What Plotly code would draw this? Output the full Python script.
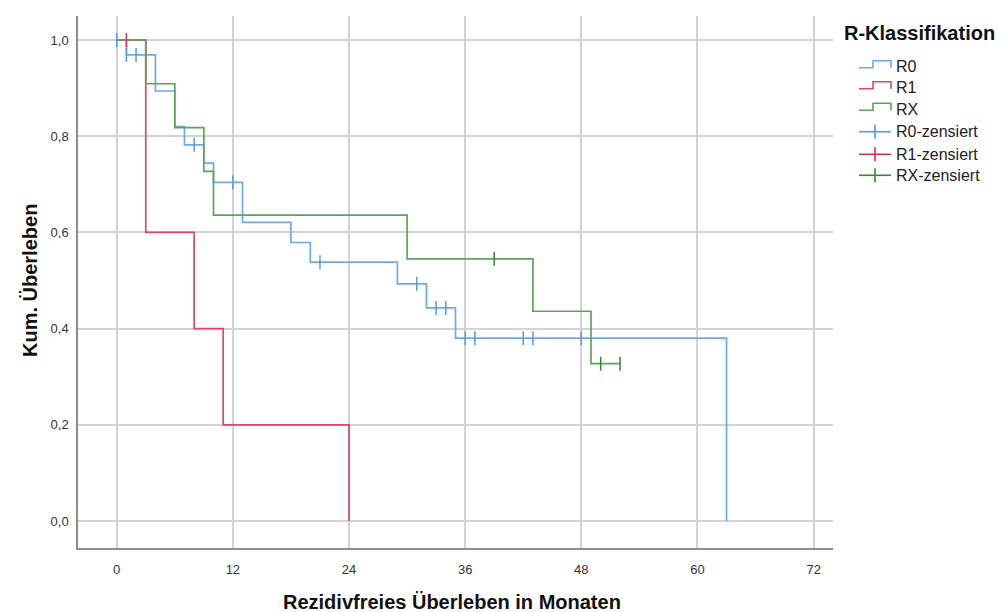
import plotly.graph_objects as go

# ---------------- data ----------------
r0_t = [0, 1, 4, 6, 7, 9, 10, 13, 18, 20, 29, 32, 35, 63]
r0_s = [1.0, 0.969, 0.894, 0.820, 0.782, 0.744, 0.704, 0.621, 0.579, 0.538, 0.493, 0.443, 0.380, 0.0]
r0_cens_t = [0, 1, 2, 8, 12, 21, 31, 33, 34, 36, 37, 42, 43, 48]
r0_cens_s = [1.0, 0.969, 0.969, 0.782, 0.704, 0.538, 0.493, 0.443, 0.443, 0.380, 0.380, 0.380, 0.380, 0.380]

r1_t = [0, 3, 8, 11, 24]
r1_s = [1.0, 0.6, 0.4, 0.2, 0.0]
r1_cens_t = [1]
r1_cens_s = [1.0]

rx_t = [0, 3, 6, 9, 10, 30, 43, 49, 52]
rx_s = [1.0, 0.909, 0.818, 0.727, 0.636, 0.545, 0.436, 0.327, 0.327]
rx_cens_t = [39, 50, 52]
rx_cens_s = [0.545, 0.327, 0.327]

x_ticks = [0, 12, 24, 36, 48, 60, 72]
y_ticks = [0.0, 0.2, 0.4, 0.6, 0.8, 1.0]
y_tick_labels = ["0,0", "0,2", "0,4", "0,6", "0,8", "1,0"]

groups = ["R0", "R1", "RX"]
line_colors = {"R0": "#6FA8EC", "R1": "#D9486D", "RX": "#5BA55B"}
cens_colors = {"R0": "#5597EA", "R1": "#D0305A", "RX": "#2E8B2E"}

legend_title = "R-Klassifikation"
x_title = "Rezidivfreies Überleben in Monaten"
y_title = "Kum. Überleben"

# ---------------- layout geometry (pixels) ----------------
W, H = 1003, 612
L, R, T, B = 78, 833, 16, 548  # plot area edges in px


def px(xp):
    return (xp - L) / (R - L)


def py(yp):
    return (B - yp) / (B - T)


FONT = "Liberation Sans, Arial, sans-serif"

fig = go.Figure()

series = {
    "R0": (r0_t, r0_s, r0_cens_t, r0_cens_s),
    "R1": (r1_t, r1_s, r1_cens_t, r1_cens_s),
    "RX": (rx_t, rx_s, rx_cens_t, rx_cens_s),
}

for g in groups:
    t, s, ct, cs = series[g]
    fig.add_trace(go.Scatter(
        x=t, y=s, mode="lines", line=dict(color=line_colors[g], width=1.7, shape="hv"),
        name=g, showlegend=False, hoverinfo="x+y"))
for g in groups:
    t, s, ct, cs = series[g]
    fig.add_trace(go.Scatter(
        x=ct, y=cs, mode="markers",
        marker=dict(symbol="line-ns-open", size=10, color=cens_colors[g],
                    line=dict(color=cens_colors[g], width=1.5)),
        name=g + "-zensiert", showlegend=False, hoverinfo="x+y"))

# ---------------- manual legend ----------------
shapes = []
annotations = []
rows_y = [66.7, 87.7, 109.3, 131.7, 154.3, 175.3]
sym_x0, sym_mid, sym_x1 = 859, 873, 891
text_x = 894
labels = groups + [g + "-zensiert" for g in groups]
for i, lab in enumerate(labels):
    yc = rows_y[i]
    if i < 3:
        g = groups[i]
        col = line_colors[g]
        lo, hi = yc + 1, yc - 6
        path = (f"M {px(sym_x0)},{py(lo)} L {px(sym_mid)},{py(lo)} L {px(sym_mid)},{py(hi)} "
                f"L {px(sym_x1)},{py(hi)} L {px(sym_x1)},{py(lo)}")
        shapes.append(dict(type="path", xref="paper", yref="paper", path=path,
                           line=dict(color=col, width=1.6)))
    else:
        g = groups[i - 3]
        col = cens_colors[g]
        shapes.append(dict(type="line", xref="paper", yref="paper",
                           x0=px(sym_x0), x1=px(sym_x1), y0=py(yc), y1=py(yc),
                           line=dict(color=col, width=1.6)))
        shapes.append(dict(type="line", xref="paper", yref="paper",
                           x0=px(sym_mid + 2), x1=px(sym_mid + 2), y0=py(yc - 7), y1=py(yc + 7),
                           line=dict(color=col, width=1.6)))
    annotations.append(dict(xref="paper", yref="paper", x=px(text_x), y=py(yc),
                            xanchor="left", yanchor="middle", text=lab, showarrow=False,
                            font=dict(family=FONT, size=16, color="#222222")))

annotations.append(dict(xref="paper", yref="paper", x=px(842), y=py(33),
                        xanchor="left", yanchor="middle", text=f"<b>{legend_title}</b>",
                        showarrow=False, font=dict(family=FONT, size=20, color="#111111")))
annotations.append(dict(xref="paper", yref="paper", x=px(452), y=py(602),
                        xanchor="center", yanchor="middle", text=f"<b>{x_title}</b>",
                        showarrow=False, font=dict(family=FONT, size=20, color="#111111")))
annotations.append(dict(xref="paper", yref="paper", x=px(30), y=py(281),
                        xanchor="center", yanchor="middle", text=f"<b>{y_title}</b>", textangle=-90,
                        showarrow=False, font=dict(family=FONT, size=20, color="#111111")))

fig.update_layout(
    width=W, height=H,
    margin=dict(l=L, r=W - R, t=T, b=H - B, pad=0),
    paper_bgcolor="white", plot_bgcolor="white",
    showlegend=False,
    shapes=shapes, annotations=annotations,
    font=dict(family=FONT, size=13, color="#333333"),
)
fig.update_xaxes(
    range=[-4, 74], tickvals=x_ticks, ticktext=[str(v) for v in x_ticks],
    showgrid=True, gridcolor="#D3D3D3", gridwidth=1.5, zeroline=False,
    showline=True, linecolor="#8C8C8C", linewidth=1.5,
    ticks="outside", ticklen=9, tickcolor="rgba(0,0,0,0)",
    tickfont=dict(family=FONT, size=13, color="#333333"),
)
fig.update_yaxes(
    range=[-0.0562, 1.0499], tickvals=y_ticks, ticktext=y_tick_labels,
    showgrid=True, gridcolor="#D3D3D3", gridwidth=1.5, zeroline=False,
    showline=True, linecolor="#8C8C8C", linewidth=1.5,
    ticks="outside", ticklen=5, tickcolor="rgba(0,0,0,0)",
    tickfont=dict(family=FONT, size=13, color="#333333"),
)

fig.write_html("out.html")
